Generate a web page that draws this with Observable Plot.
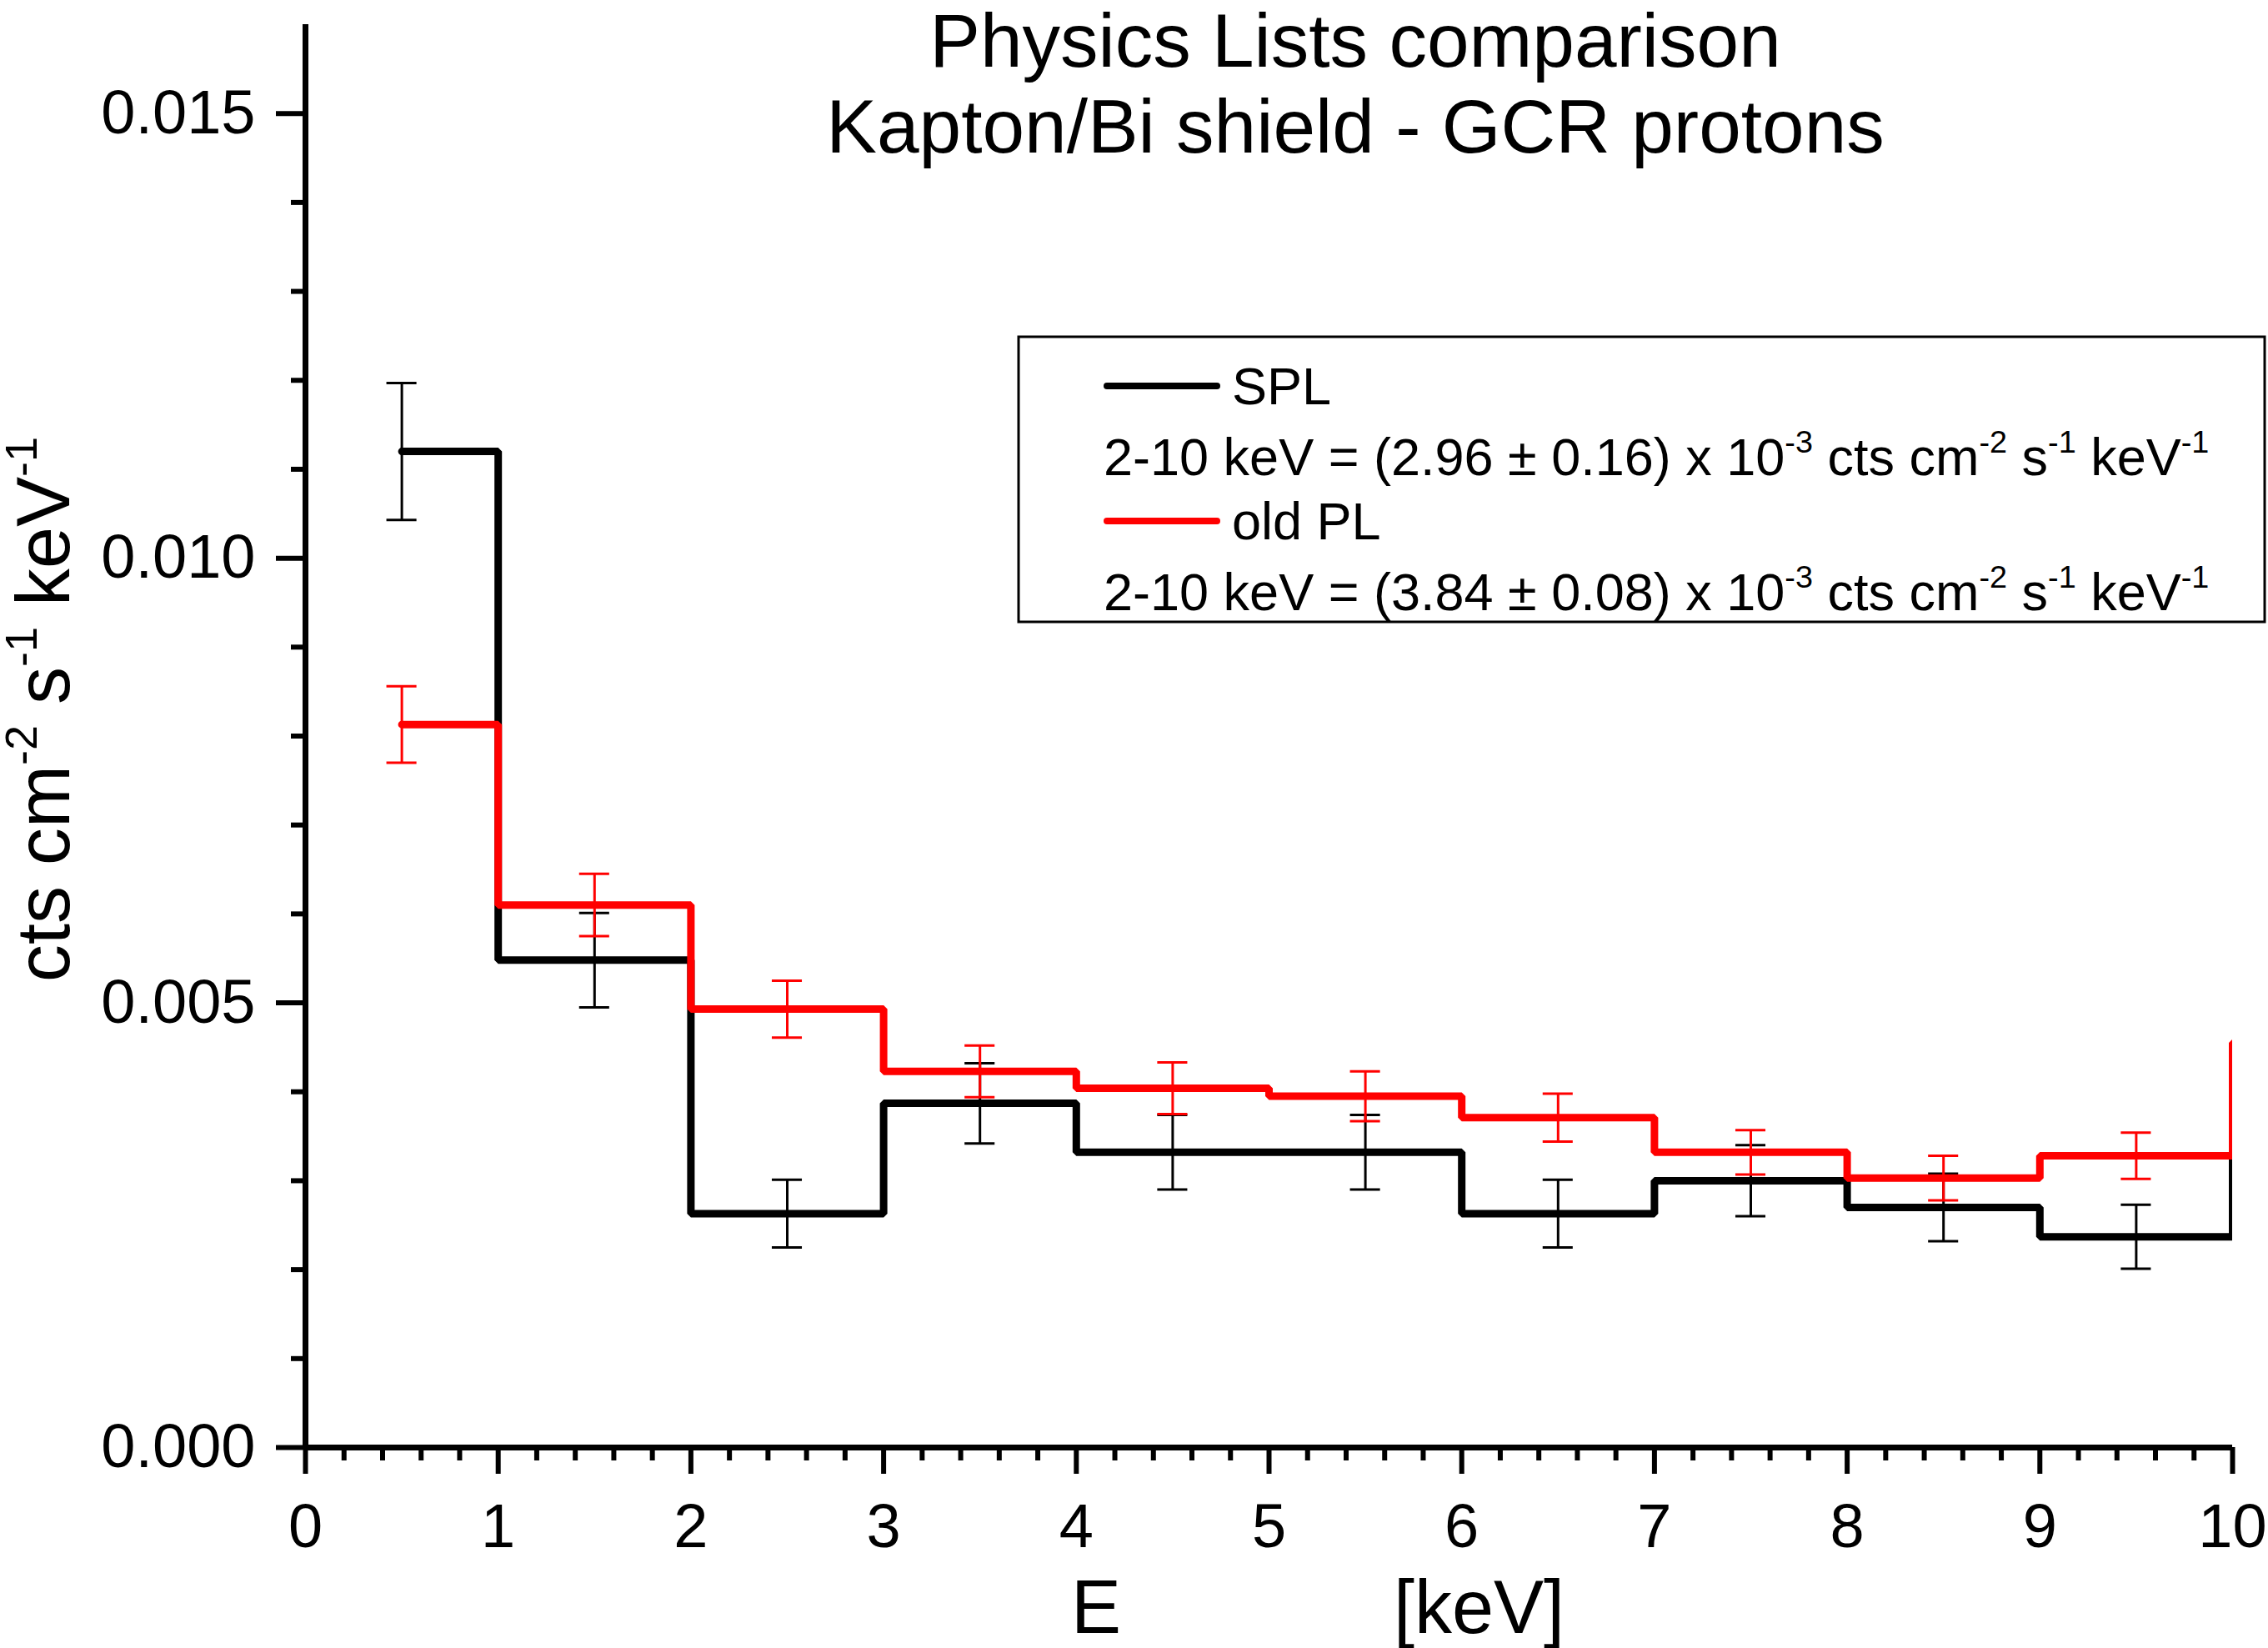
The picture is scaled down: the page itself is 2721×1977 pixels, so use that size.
<!DOCTYPE html>
<html><head><meta charset="utf-8">
<script src="https://cdn.jsdelivr.net/npm/d3@7"></script>
<script src="https://cdn.jsdelivr.net/npm/@observablehq/plot@0.6"></script>
<style>html,body{margin:0;padding:0;background:#fff;overflow:hidden}</style>
</head><body><div id="chart"></div>
<script>
// ---- data ----
const energies   = [0.5, 1.5, 2.5, 3.5, 4.5, 5.5, 6.5, 7.5, 8.5, 9.5, 10.5];
const splValues  = [0.01120, 0.00548, 0.00263, 0.00387, 0.00332, 0.00332, 0.00263, 0.00300, 0.00270, 0.00237, 0.00360];
const splErrors  = [0.00077, 0.00053, 0.00038, 0.00045, 0.00042, 0.00042, 0.00038, 0.00040, 0.00038, 0.00036, 0];
const oldValues  = [0.00813, 0.00610, 0.00493, 0.00423, 0.00404, 0.00395, 0.00371, 0.00332, 0.00303, 0.00328, 0.00455];
const oldErrors  = [0.00043, 0.00035, 0.00032, 0.00029, 0.00029, 0.00028, 0.00027, 0.00025, 0.00025, 0.00026, 0];
const seriesNames = ["SPL", "old PL"];
const seriesColors = ["#000000", "#ff0000"];
const rateTexts = [
  [["2-10 keV = (2.96 ± 0.16) x 10", 0], ["-3", 1], [" cts cm", 0], ["-2", 1], [" s", 0], ["-1", 1], [" keV", 0], ["-1", 1]],
  [["2-10 keV = (3.84 ± 0.08) x 10", 0], ["-3", 1], [" cts cm", 0], ["-2", 1], [" s", 0], ["-1", 1], [" keV", 0], ["-1", 1]]
];
const xMajorTicks = [0, 1, 2, 3, 4, 5, 6, 7, 8, 9, 10];
const xMinorTicks = d3.range(0, 51).filter(i => i % 5 !== 0).map(i => i / 5);
const yMajorTicks = [0, 0.005, 0.010, 0.015];
const yTickLabels = ["0.000", "0.005", "0.010", "0.015"];
const yMinorTicks = d3.range(1, 16).filter(i => i % 5 !== 0).map(i => i / 1000);
const titleLines = ["Physics Lists comparison", "Kapton/Bi shield - GCR protons"];
const yLabelParts = [["cts cm", 0], ["-2", 1], [" s", 0], ["-1", 1], [" keV", 0], ["-1", 1]];
const xLabelParts = ["E", "[keV]"];

// ---- build ----
const W = 2721, H = 1977;
const font = "'Liberation Sans', Arial, Helvetica, sans-serif";
const rows = (vals, errs) => energies.map((x, i) => ({x, y: vals[i], e: errs[i]}));
const spl = rows(splValues, splErrors);
const old = rows(oldValues, oldErrors);
const inRange = d => d.filter(r => r.x < 10);
const capHalf = 0.078;

function errorMarks(data, color) {
  const d = inRange(data);
  return [
    Plot.ruleX(d, {x: "x", y1: r => r.y - r.e, y2: r => r.y + r.e, stroke: color, strokeWidth: 3}),
    Plot.ruleY(d, {y: r => r.y + r.e, x1: r => r.x - capHalf, x2: r => r.x + capHalf, stroke: color, strokeWidth: 3}),
    Plot.ruleY(d, {y: r => r.y - r.e, x1: r => r.x - capHalf, x2: r => r.x + capHalf, stroke: color, strokeWidth: 3})
  ];
}

const plot = Plot.plot({
  width: W, height: H,
  marginLeft: 366, marginRight: 43, marginTop: 29, marginBottom: 241,
  style: {fontFamily: font, background: "white", color: "black", overflow: "visible"},
  x: {domain: [0, 10], axis: null},
  y: {domain: [0, 0.016], axis: null},
  marks: [
    Plot.axisX(xMinorTicks, {anchor: "bottom", tickSize: 16, strokeWidth: 6, tickFormat: () => "", label: null}),
    Plot.axisX(xMajorTicks, {anchor: "bottom", tickSize: 32, strokeWidth: 6, tickPadding: 35, fontSize: 74, tickFormat: d => String(d), label: null}),
    Plot.axisY(yMinorTicks, {anchor: "left", tickSize: 17, strokeWidth: 6, tickFormat: () => "", label: null}),
    Plot.axisY(yMajorTicks, {anchor: "left", tickSize: 35, strokeWidth: 6, tickPadding: 25, fontSize: 74,
      tickFormat: d => yTickLabels[yMajorTicks.indexOf(d)], label: null}),
    Plot.line(spl, {x: "x", y: "y", curve: "step", stroke: seriesColors[0], strokeWidth: 9, clip: true,
      strokeLinejoin: "miter", strokeLinecap: "round"}),
    ...errorMarks(spl, seriesColors[0]),
    Plot.line(old, {x: "x", y: "y", curve: "step", stroke: seriesColors[1], strokeWidth: 9, clip: true,
      strokeLinejoin: "miter", strokeLinecap: "round"}),
    ...errorMarks(old, seriesColors[1]),
    Plot.ruleX([0], {stroke: "black", strokeWidth: 7}),
    Plot.ruleY([0], {stroke: "black", strokeWidth: 7})
  ]
});

const svg = d3.select(plot);
function rich(sel, parts, size) {
  let shifted = false;
  parts.forEach(([t, sup]) => {
    const ts = sel.append("tspan").text(t);
    if (sup && !shifted) { ts.attr("dy", -0.43 * size).attr("font-size", 0.6 * size); shifted = true; }
    else if (sup) { ts.attr("font-size", 0.6 * size); }
    else if (!sup && shifted) { ts.attr("dy", 0.43 * size); shifted = false; }
  });
}
const T = svg.append("g").attr("font-family", font).attr("fill", "black").attr("text-anchor", "start");
// title
titleLines.forEach((t, i) => {
  T.append("text").attr("x", 1626).attr("y", 80 + i * 103).attr("text-anchor", "middle")
    .attr("font-size", 91).text(t);
});
// y label
rich(T.append("text").attr("transform", "translate(83,851) rotate(-90)").attr("text-anchor", "middle")
  .attr("font-size", 90), yLabelParts, 90);
// x label
T.append("text").attr("x", 1285).attr("y", 1959).attr("font-size", 90).text(xLabelParts[0]);
T.append("text").attr("x", 1672).attr("y", 1959).attr("font-size", 90).text(xLabelParts[1]);
// legend
const L = T.append("g");
L.append("rect").attr("x", 1222).attr("y", 404).attr("width", 1495).attr("height", 342)
  .attr("fill", "white").attr("stroke", "black").attr("stroke-width", 3);
seriesNames.forEach((name, i) => {
  const y0 = 463 + i * 162;
  L.append("line").attr("x1", 1328).attr("x2", 1460).attr("y1", y0).attr("y2", y0)
    .attr("stroke", seriesColors[i]).attr("stroke-width", 8).attr("stroke-linecap", "round");
  L.append("text").attr("x", 1478).attr("y", y0 + 22).attr("font-size", 63).text(name);
  rich(L.append("text").attr("x", 1324).attr("y", y0 + 107).attr("font-size", 63), rateTexts[i], 63);
});
document.getElementById("chart").appendChild(plot);
</script>
</body></html>
